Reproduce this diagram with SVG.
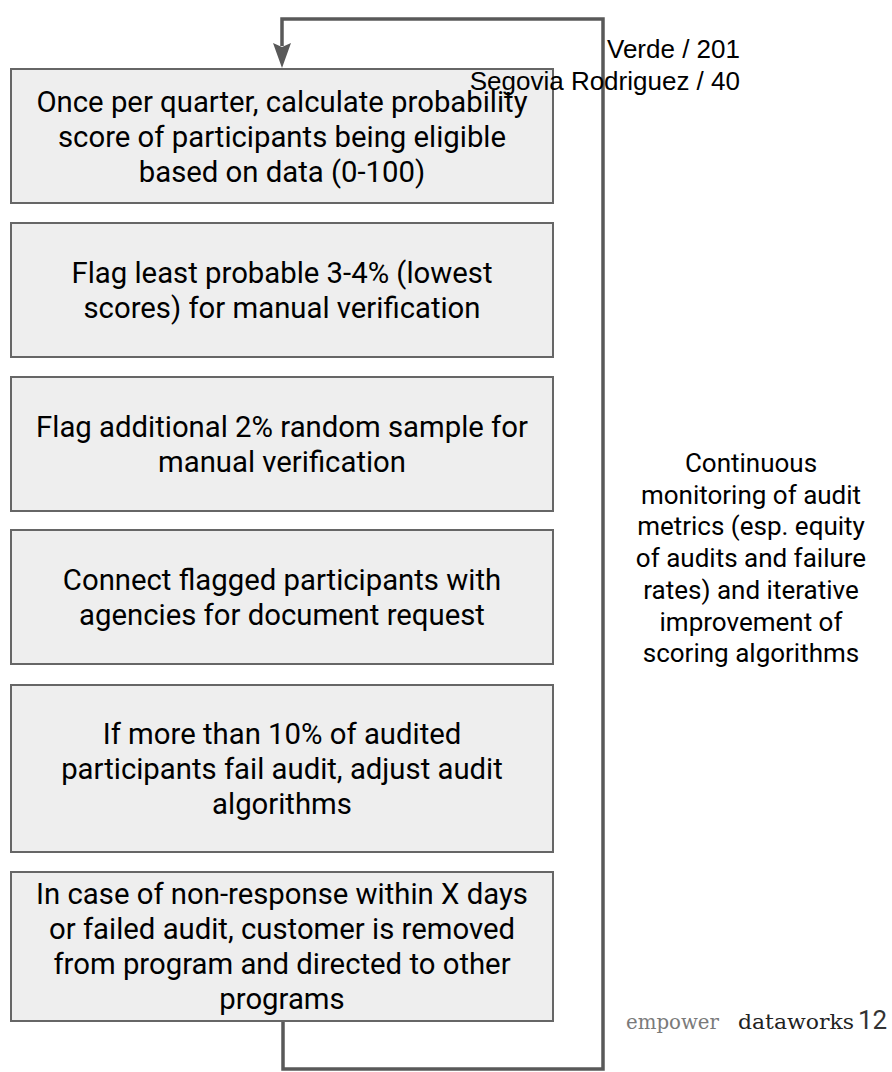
<svg xmlns="http://www.w3.org/2000/svg" width="892" height="1072" viewBox="0 0 892 1072">
<style>
.box{fill:#eeeeee;stroke:#666666;stroke-width:2}
.t{font-family:Roboto,"Noto Sans",sans-serif;font-size:29.3px;fill:#000;text-anchor:middle}
.side{font-family:Roboto,"Noto Sans",sans-serif;font-size:26px;fill:#000;text-anchor:middle}
.lbl{font-family:"Liberation Sans",Arial,sans-serif;font-size:26px;fill:#000;text-anchor:end}
.conn{fill:none;stroke:#595959;stroke-width:3.5}
.ft{font-family:"DejaVu Serif","Liberation Serif",serif;font-size:20px}
</style>
<rect width="892" height="1072" fill="#ffffff"/>
<g id="connectors">
<polyline class="conn" points="283,1021 283,1069 603,1069 603,19 282,19 282,46"/>
<path d="M273,43 L282,47 L291,43 L282,68 Z" fill="#595959"/>
</g>
<g id="node1">
<rect class="box" x="11" y="69" width="542" height="134"/>
<text class="t" x="282" y="111.5">Once per quarter, calculate probability</text>
<text class="t" x="282" y="146.5">score of participants being eligible</text>
<text class="t" x="282" y="181.5">based on data (0-100)</text>
</g>
<g id="node2">
<rect class="box" x="11" y="223" width="542" height="134"/>
<text class="t" x="282" y="282.5">Flag least probable 3-4% (lowest</text>
<text class="t" x="282" y="317.5">scores) for manual verification</text>
</g>
<g id="node3">
<rect class="box" x="11" y="377" width="542" height="134"/>
<text class="t" x="282" y="437">Flag additional 2% random sample for</text>
<text class="t" x="282" y="472">manual verification</text>
</g>
<g id="node4">
<rect class="box" x="11" y="530" width="542" height="134"/>
<text class="t" x="282" y="590">Connect flagged participants with</text>
<text class="t" x="282" y="625">agencies for document request</text>
</g>
<g id="node5">
<rect class="box" x="11" y="685" width="542" height="167"/>
<text class="t" x="282" y="744">If more than 10% of audited</text>
<text class="t" x="282" y="779">participants fail audit, adjust audit</text>
<text class="t" x="282" y="814">algorithms</text>
</g>
<g id="node6">
<rect class="box" x="11" y="872" width="542" height="149"/>
<text class="t" x="282" y="904">In case of non-response within X days</text>
<text class="t" x="282" y="939">or failed audit, customer is removed</text>
<text class="t" x="282" y="974">from program and directed to other</text>
<text class="t" x="282" y="1009">programs</text>
</g>
<g id="sidenote">
<text class="side" x="751" y="472">Continuous</text>
<text class="side" x="751" y="503.7">monitoring of audit</text>
<text class="side" x="751" y="535.4">metrics (esp. equity</text>
<text class="side" x="751" y="567.1">of audits and failure</text>
<text class="side" x="751" y="598.8">rates) and iterative</text>
<text class="side" x="751" y="630.5">improvement of</text>
<text class="side" x="751" y="662.2">scoring algorithms</text>
</g>
<g id="labels">
<text class="lbl" x="740" y="58">Verde / 201</text>
<text class="lbl" x="740" y="90">Segovia Rodriguez / 40</text>
</g>
<g id="footer">
<text class="ft" x="626" y="1029" fill="#7a7a7a" textLength="93" lengthAdjust="spacingAndGlyphs">empower</text>
<text class="ft" x="738" y="1029" fill="#222222" textLength="116" lengthAdjust="spacingAndGlyphs">dataworks</text>
<text x="858" y="1029" font-family="Roboto,'Liberation Sans',sans-serif" font-size="26px" fill="#333333">12</text>
</g>
</svg>
